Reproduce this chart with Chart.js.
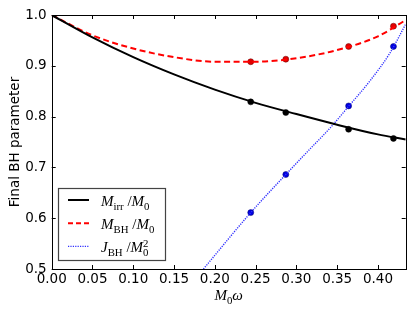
<!DOCTYPE html>
<html>
<head>
<meta charset="utf-8">
<script src="https://cdn.jsdelivr.net/npm/chart.js@4/dist/chart.umd.min.js"></script>
<style>
  body { margin: 0; background: #fff; }
  #wrap { width: 415px; height: 312px; }
</style>
</head>
<body>
<div id="wrap"><canvas id="chart" width="415" height="312"></canvas></div>
<script>
// curves
const curveX = [0, 0.05, 0.10, 0.15, 0.20, 0.25, 0.30, 0.35, 0.40, 0.434];
const irrCurve = [1.0, 0.956, 0.917, 0.883, 0.853, 0.827, 0.805, 0.784, 0.765, 0.755];
const bhCurve = [1.0, 0.960, 0.934, 0.917, 0.908, 0.908, 0.915, 0.931, 0.958, 0.990];
const jCurveX = [0.186, 0.244, 0.287, 0.3165, 0.341, 0.3655, 0.39, 0.4146, 0.434];
const jCurve = [0.5, 0.611, 0.686, 0.736, 0.777, 0.823, 0.870, 0.925, 0.982];

// simulation points
const simX = [0.244, 0.287, 0.364, 0.419];
const simIrr = [0.829, 0.808, 0.775, 0.757];
const simBH = [0.908, 0.913, 0.938, 0.978];
const simJ = [0.611, 0.686, 0.821, 0.938];

const xTicks = [0, 0.05, 0.10, 0.15, 0.20, 0.25, 0.30, 0.35, 0.40];
const yTicks = [0.5, 0.6, 0.7, 0.8, 0.9, 1.0];

// legend labels as math pieces
const legendItems = [
  { color: '#000', dash: [], width: 2, parts: [{t:'M', it:1}, {t:'irr', sub:1}, {t:' /'}, {t:'M', it:1}, {t:'0', sub:1}] },
  { color: '#ff0000', dash: [5, 3], width: 2, parts: [{t:'M', it:1}, {t:'BH', sub:1}, {t:' /'}, {t:'M', it:1}, {t:'0', sub:1}] },
  { color: '#3030ff', dash: [1.2, 1.2], width: 1.4, parts: [{t:'J', it:1}, {t:'BH', sub:1}, {t:' /'}, {t:'M', it:1}, {t:'0', sub:1, stay:1}, {t:'2', sup:1}] }
];
const xTitle = [{t:'M', it:1}, {t:'0', sub:1}, {t:'ω', it:1}];

const pts = (xs, ys) => xs.map((x, i) => ({ x: x, y: ys[i] }));

function setMathFont(ctx, p, size) {
  const fs = (p.sub || p.sup) ? size * 0.72 : size;
  ctx.font = (p.it ? 'italic ' : '') + fs + 'px "Liberation Serif"';
}

function mathWidth(ctx, parts, size) {
  let w = 0;
  parts.forEach(p => {
    setMathFont(ctx, p, size);
    if (!p.stay) w += ctx.measureText(p.t).width;
  });
  return w;
}

function drawMath(ctx, x, y, parts, size) {
  ctx.textAlign = 'left';
  ctx.textBaseline = 'alphabetic';
  parts.forEach(p => {
    setMathFont(ctx, p, size);
    const dy = p.sub ? size * 0.24 : p.sup ? -size * 0.38 : 0;
    ctx.fillText(p.t, x, y + dy);
    if (!p.stay) x += ctx.measureText(p.t).width;
  });
}

const decor = {
  id: 'decor',
  afterDatasetsDraw(chart) {
    const ctx = chart.ctx;
    const a = chart.chartArea;
    const xs = chart.scales.x, ys = chart.scales.y;
    ctx.save();
    ctx.strokeStyle = '#000';
    ctx.lineWidth = 1;
    ctx.setLineDash([]);
    // frame
    ctx.strokeRect(Math.round(a.left) + 0.5, Math.round(a.top) + 0.5,
      Math.round(a.right - a.left), Math.round(a.bottom - a.top));
    // inward ticks on all sides
    ctx.beginPath();
    xTicks.forEach(v => {
      const px = Math.round(xs.getPixelForValue(v)) + 0.5;
      ctx.moveTo(px, a.bottom); ctx.lineTo(px, a.bottom - 4);
      ctx.moveTo(px, a.top); ctx.lineTo(px, a.top + 4);
    });
    yTicks.forEach(v => {
      const py = Math.round(ys.getPixelForValue(v)) + 0.5;
      ctx.moveTo(a.left, py); ctx.lineTo(a.left + 4, py);
      ctx.moveTo(a.right, py); ctx.lineTo(a.right - 4, py);
    });
    ctx.stroke();

    // legend
    const lx = 58.5, ly = 188.5, lw = 107, lh = 72;
    ctx.fillStyle = '#fff';
    ctx.fillRect(lx, ly, lw, lh);
    ctx.strokeStyle = '#444';
    ctx.lineWidth = 1.2;
    ctx.strokeRect(lx, ly, lw, lh);
    legendItems.forEach((it, i) => {
      const yy = 200 + i * 23.2;
      ctx.strokeStyle = it.color;
      ctx.lineWidth = it.width;
      ctx.setLineDash(it.dash);
      ctx.beginPath();
      ctx.moveTo(68, yy); ctx.lineTo(89, yy);
      ctx.stroke();
      ctx.fillStyle = '#000';
      drawMath(ctx, 101, yy + 6, it.parts, 15);
    });
    ctx.setLineDash([]);

    // axis titles
    ctx.fillStyle = '#000';
    const w = mathWidth(ctx, xTitle, 15);
    drawMath(ctx, (a.left + a.right) / 2 - w / 2, 300, xTitle, 15);
    ctx.save();
    ctx.translate(15, (a.top + a.bottom) / 2);
    ctx.rotate(-Math.PI / 2);
    ctx.font = '13.5px "DejaVu Sans"';
    ctx.textAlign = 'center';
    ctx.textBaseline = 'middle';
    ctx.fillText('Final BH parameter', 0, 0);
    ctx.restore();
    ctx.restore();
  }
};

const tickFont = { family: 'DejaVu Sans', size: 13.5 };

new Chart(document.getElementById('chart').getContext('2d'), {
  type: 'scatter',
  data: {
    datasets: [
      { data: pts(curveX, irrCurve), showLine: true, borderColor: '#000', borderWidth: 2,
        pointRadius: 0, cubicInterpolationMode: 'monotone' },
      { data: pts(curveX, bhCurve), showLine: true, borderColor: '#ff0000', borderWidth: 2,
        borderDash: [6, 3.5], pointRadius: 0, cubicInterpolationMode: 'monotone' },
      { data: pts(jCurveX, jCurve), showLine: true, borderColor: '#3030ff', borderWidth: 1.4,
        borderDash: [1.2, 1.2], pointRadius: 0, cubicInterpolationMode: 'monotone' },
      { data: pts(simX, simIrr), pointRadius: 3, backgroundColor: '#000', borderColor: '#000', borderWidth: 0.5 },
      { data: pts(simX, simBH), pointRadius: 3, backgroundColor: '#e00000', borderColor: '#600', borderWidth: 0.5 },
      { data: pts(simX, simJ), pointRadius: 3, backgroundColor: '#0000e0', borderColor: '#006', borderWidth: 0.5 }
    ]
  },
  options: {
    responsive: false,
    animation: false,
    devicePixelRatio: 1,
    layout: { padding: { top: 15, right: 9.3, left: 0, bottom: 0 } },
    plugins: { legend: { display: false }, tooltip: { enabled: false } },
    scales: {
      x: {
        type: 'linear', min: 0, max: 0.434,
        afterBuildTicks: s => { s.ticks = xTicks.map(v => ({ value: v })); },
        afterFit: s => { s.height = 43; },
        grid: { display: false, drawTicks: false }, border: { display: false },
        ticks: { font: tickFont, color: '#000', padding: 2, maxRotation: 0, autoSkip: false,
          callback: v => v.toFixed(2) }
      },
      y: {
        type: 'linear', min: 0.5, max: 1.0,
        afterBuildTicks: s => { s.ticks = yTicks.map(v => ({ value: v })); },
        afterFit: s => { s.width = 51.7; },
        grid: { display: false, drawTicks: false }, border: { display: false },
        ticks: { font: tickFont, color: '#000', padding: 5, autoSkip: false,
          callback: v => v.toFixed(1) }
      }
    }
  },
  plugins: [decor]
});
</script>
</body>
</html>
